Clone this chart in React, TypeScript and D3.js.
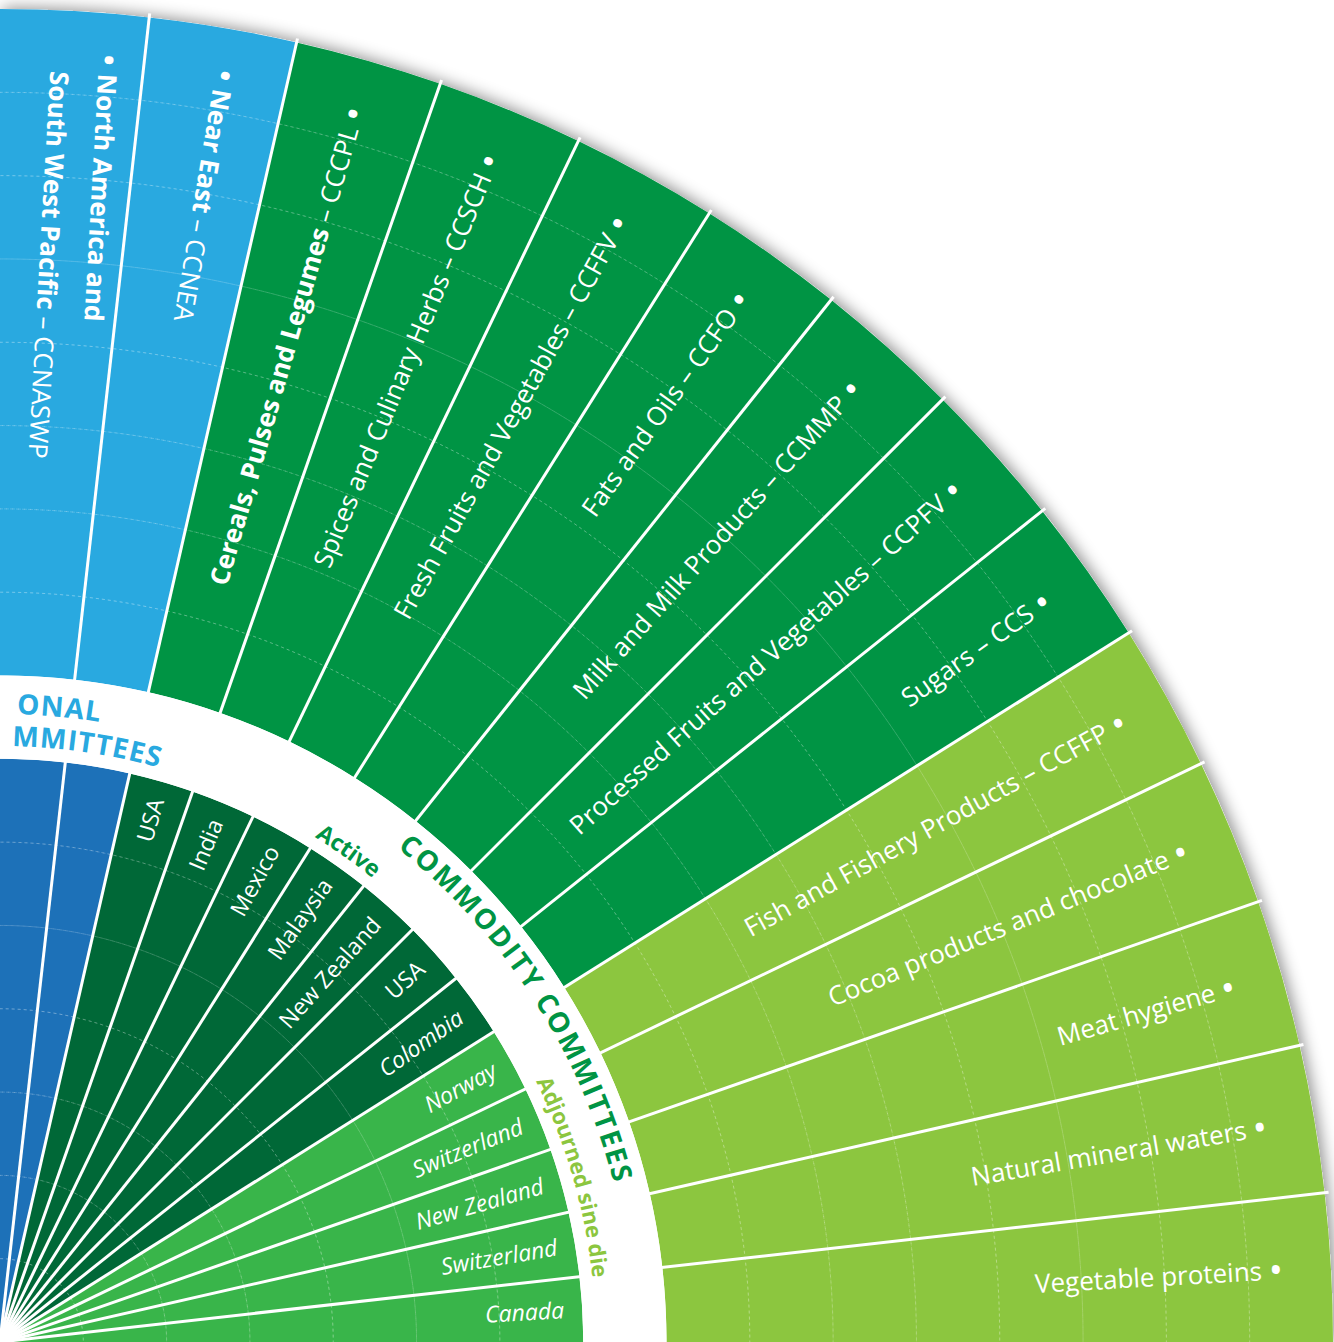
import React from "react";
import * as d3 from "d3";

// committees, clockwise from the top of the fan
const committeeNames = [
  "North America and\nSouth West Pacific",
  "Near East",
  "Cereals, Pulses and Legumes",
  "Spices and Culinary Herbs",
  "Fresh Fruits and Vegetables",
  "Fats and Oils",
  "Milk and Milk Products",
  "Processed Fruits and Vegetables",
  "Sugars",
  "Fish and Fishery Products",
  "Cocoa products and chocolate",
  "Meat hygiene",
  "Natural mineral waters",
  "Vegetable proteins"
];

const committeeCodes = [
  "CCNASWP", "CCNEA", "CCCPL", "CCSCH", "CCFFV", "CCFO", "CCMMP",
  "CCPFV", "CCS", "CCFFP", "", "", "", ""
];

const hostCountries = [
  "", "", "USA", "India", "Mexico", "Malaysia", "New Zealand", "USA",
  "Colombia", "Norway", "Switzerland", "New Zealand", "Switzerland", "Canada"
];

const committeeGroups = [
  "regional", "regional",
  "active", "active", "active", "active", "active", "active", "active",
  "adjourned", "adjourned", "adjourned", "adjourned", "adjourned"
];

// names set in bold in the outer ring
const boldNames = ["North America and\nSouth West Pacific", "Near East", "Cereals, Pulses and Legumes"];

const W = 1334;
const H = 1342;
const R = 1333;
const FONT = "'Open Sans', 'Noto Sans', sans-serif";

const outerColor: Record<string, string> = {
  regional: "#29A9E0",
  active: "#009444",
  adjourned: "#8CC63F"
};
const innerColor: Record<string, string> = {
  regional: "#1D71B8",
  active: "#006837",
  adjourned: "#39B54A"
};

const deg = (a: number) => (a * 180) / Math.PI;
const rad = (d: number) => (d * Math.PI) / 180;

// big round bullet, nudged down to sit at mid cap height
const Bullet = ({ first }: { first?: boolean }) =>
  first ? (
    <>
      <tspan fontSize={38} dy={4}>•</tspan>
      <tspan dy={-4}> </tspan>
    </>
  ) : (
    <>
      <tspan> </tspan>
      <tspan fontSize={38} dy={4}>•</tspan>
    </>
  );

export default function App() {
  const idx = d3.range(committeeNames.length);
  const angle = d3.scaleBand<number>().domain(idx).range([0, Math.PI / 2]).padding(0);
  const radius = d3.scaleLinear().domain([0, 16]).range([0, R]);
  const bw = angle.bandwidth();

  const innerArc = d3.arc<number>()
    .innerRadius(0)
    .outerRadius(radius(7))
    .startAngle((i) => angle(i)!)
    .endAngle((i) => angle(i)! + bw);

  const outerArc = d3.arc<number>()
    .innerRadius(radius(8))
    .outerRadius(radius(16))
    .startAngle((i) => angle(i)!)
    .endAngle((i) => angle(i)! + bw);

  const shadowArc = d3.arc()({
    innerRadius: 0,
    outerRadius: R,
    startAngle: 0,
    endAngle: Math.PI / 2
  } as any) as string;

  // faint guide rings
  const gridRings = [1, 2, 3, 4, 5, 6, 9, 10, 11, 12, 13, 14, 15];
  const ringArc = (k: number) =>
    d3.arc()({ innerRadius: radius(k), outerRadius: radius(k), startAngle: 0, endAngle: Math.PI / 2 } as any) as string;

  // paths for the curved text in the white band
  const a0 = -0.5;
  const bandPath = (r: number) => {
    const p0 = d3.pointRadial(a0, r);
    const p1 = d3.pointRadial(Math.PI / 2 + 0.5, r);
    return `M${p0[0]},${p0[1]} A${r},${r} 0 0 1 ${p1[0]},${p1[1]}`;
  };
  const bandOffset = (a: number, r: number) => r * (a - a0);

  const activeMid = (angle(2)! + angle(8)! + bw) / 2;
  const adjournedMid = (angle(9)! + Math.PI / 2) / 2;

  const bandTexts = [
    { text: "ONAL", r: 628, a: rad(9.2), anchor: "end", size: 28, ls: 1, color: "#29A9E0" },
    { text: "MMITTEES", r: 596, a: rad(15.5), anchor: "end", size: 28, ls: 1, color: "#29A9E0" },
    { text: "Active", r: 595, a: activeMid, anchor: "middle", size: 23, ls: 0, color: "#009444" },
    { text: "COMMODITY COMMITTEES", r: 634, a: rad(57.2), anchor: "middle", size: 28, ls: 2, color: "#009444" },
    { text: "Adjourned sine die", r: 596, a: adjournedMid, anchor: "middle", size: 22, ls: 0, color: "#8CC63F" }
  ];

  return (
    <svg
      width={W}
      height={H}
      viewBox={`0 0 ${W} ${H}`}
      style={{ position: "absolute", left: 0, top: 0, display: "block", background: "#fff" }}
      fontFamily={FONT}
    >
      <defs>
        <filter id="shadow" x="-10%" y="-10%" width="120%" height="120%">
          <feDropShadow dx="3" dy="-1" stdDeviation="8" floodColor="#000" floodOpacity="0.45" />
        </filter>
        {bandTexts.map((b, i) => (
          <path key={i} id={`band-${i}`} d={bandPath(b.r)} fill="none" />
        ))}
      </defs>

      <g transform={`translate(0,${H})`}>
        <path d={shadowArc} fill="#fff" filter="url(#shadow)" />

        {/* wedges */}
        {idx.map((i) => (
          <path key={`in-${i}`} d={innerArc(i)!} fill={innerColor[committeeGroups[i]]} />
        ))}
        {idx.map((i) => (
          <path key={`out-${i}`} d={outerArc(i)!} fill={outerColor[committeeGroups[i]]} />
        ))}

        {/* faint rings */}
        {gridRings.map((k) => (
          <path
            key={`ring-${k}`}
            d={ringArc(k)}
            fill="none"
            stroke="#fff"
            strokeOpacity={0.25}
            strokeWidth={0.8}
            strokeDasharray="3 3"
          />
        ))}

        {/* white separators */}
        {idx.slice(1).map((i) => {
          const p = d3.pointRadial(angle(i)!, R + 4);
          return <line key={`sep-${i}`} x1={0} y1={0} x2={p[0]} y2={p[1]} stroke="#fff" strokeWidth={3} />;
        })}
        <path
          d={d3.arc()({ innerRadius: radius(7), outerRadius: radius(8), startAngle: -0.1, endAngle: Math.PI / 2 + 0.1 } as any) as string}
          fill="#fff"
        />

        {/* outer ring labels */}
        {idx.map((i) => {
          const a = angle(i)! + bw / 2;
          const name = committeeNames[i];
          const code = committeeCodes[i];
          const weight = boldNames.includes(name) ? 700 : 400;
          if (committeeGroups[i] === "regional") {
            const p = d3.pointRadial(a, 1293);
            const lines = name.split("\n");
            if (lines.length > 1) {
              return (
                <text
                  key={`lab-${i}`}
                  transform={`translate(${p[0]},${p[1]}) rotate(${deg(a) + 90})`}
                  fill="#fff"
                  fontSize={26}
                >
                  <tspan x={0} y={-27} dy="0.35em">
                    <Bullet first />
                    <tspan fontWeight={weight}>{lines[0]}</tspan>
                  </tspan>
                  <tspan x={21} y={12} dy="0.35em">
                    <tspan fontWeight={weight}>{lines[1]}</tspan>
                    {code ? ` – ${code}` : ""}
                  </tspan>
                </text>
              );
            }
            return (
              <text
                key={`lab-${i}`}
                transform={`translate(${p[0]},${p[1]}) rotate(${deg(a) + 90})`}
                fill="#fff"
                fontSize={26}
                dy="0.35em"
              >
                <Bullet first />
                <tspan fontWeight={weight}>{name}</tspan>
                {code ? ` – ${code}` : ""}
              </text>
            );
          }
          const p = d3.pointRadial(a, 1285);
          return (
            <text
              key={`lab-${i}`}
              transform={`translate(${p[0]},${p[1]}) rotate(${deg(a) - 90})`}
              fill="#fff"
              fontSize={26}
              textAnchor="end"
              dy="0.35em"
            >
              <tspan fontWeight={weight}>{name}</tspan>
              {code ? ` – ${code}` : ""}
              <Bullet />
            </text>
          );
        })}

        {/* host countries in the inner ring */}
        {idx.filter((i) => hostCountries[i]).map((i) => {
          const a = angle(i)! + bw / 2;
          const p = d3.pointRadial(a, 565);
          const italic = committeeGroups[i] === "adjourned" || i === 8;
          return (
            <text
              key={`host-${i}`}
              transform={`translate(${p[0]},${p[1]}) rotate(${deg(a) - 90})`}
              fill="#fff"
              fontSize={23}
              fontStyle={italic ? "italic" : "normal"}
              textAnchor="end"
              dy="0.35em"
            >
              {hostCountries[i]}
            </text>
          );
        })}

        {/* curved headings in the white band */}
        {bandTexts.map((b, i) => (
          <text
            key={`band-text-${i}`}
            fill={b.color}
            fontSize={b.size}
            fontWeight={700}
            letterSpacing={b.ls}
          >
            <textPath href={`#band-${i}`} startOffset={bandOffset(b.a, b.r)} textAnchor={b.anchor as any}>
              {b.text}
            </textPath>
          </text>
        ))}
      </g>
    </svg>
  );
}
